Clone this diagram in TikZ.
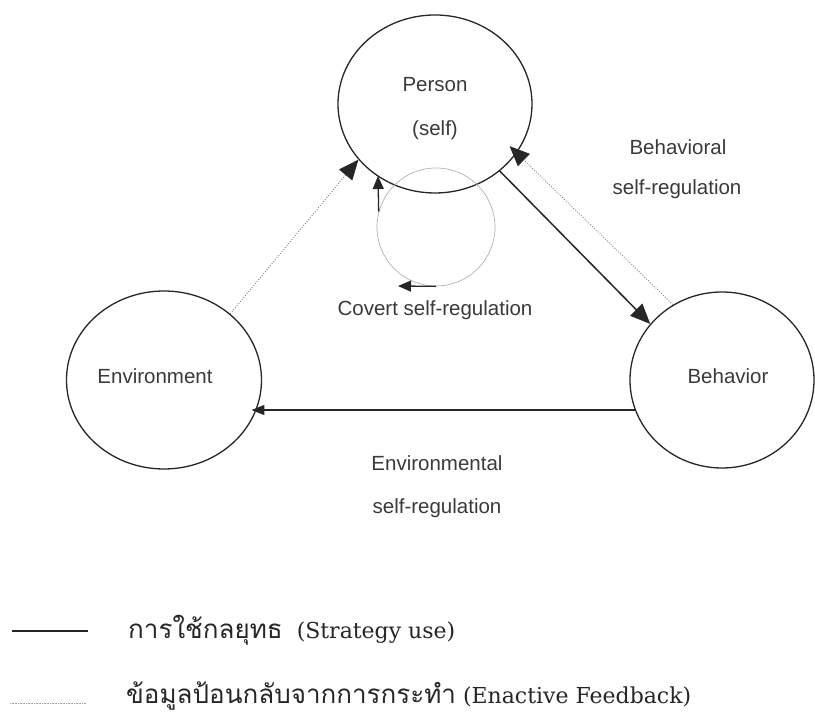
\documentclass[tikz,border=0pt]{standalone}
\usepackage{fontspec}
\setsansfont{Liberation Sans}
\newfontfamily\thaifont[Script=Thai]{Loma}
\newfontfamily\keyfont{DejaVu Serif}
\usetikzlibrary{shapes.geometric,arrows.meta}
\definecolor{ink}{HTML}{262626}
\definecolor{txt}{HTML}{3A3A3A}
\definecolor{dots}{HTML}{8A8A8A}
\begin{document}
\begin{tikzpicture}[x=1pt,y=1pt,
  blob/.style={draw=ink,line width=1.3pt,ellipse,inner sep=0pt},
  lbl/.style={text=txt,font=\sffamily\fontsize{20.5}{24}\selectfont,inner sep=0pt},
  strat/.style={draw=ink,line width=1.5pt},
  fb/.style={draw=dots,line width=0.9pt,dash pattern=on 1pt off 1.6pt},
  bigtip/.style={-{Triangle[length=20pt,width=17pt,color=ink]}},
  smalltip/.style={-{Triangle[length=13pt,width=10pt,color=ink]}},
  midtip/.style={-{Triangle[length=13pt,width=11pt,color=ink]}},
  legend/.style={text=ink,font=\keyfont\fontsize{22}{26}\selectfont,inner sep=0pt,anchor=base west}]
\useasboundingbox (0,0) rectangle (815,717);

% the three poles of the model
\node[blob,minimum width=194pt,minimum height=178pt] (person) at (435,613) {};
\node[blob,minimum width=195pt,minimum height=178pt] (env) at (164,337) {};
\node[blob,minimum width=184pt,minimum height=176pt] (beh) at (722,337) {};

% inner loop of covert regulation
\node[circle,draw=black!30,line width=0.7pt,minimum size=118pt,inner sep=0pt] (cov) at (436,490) {};
\coordinate (covtip) at (378,541);
\coordinate (covend) at (398,431);
\draw[strat,line width=1.3pt,midtip] (cov.165) -- (covtip);
\draw[strat,line width=1.3pt,midtip] (cov.south) -- (covend);

% labels inside the poles
\node[lbl] (plabel) at (435,632) {Person};
\node[lbl] (pself) at (435,587) {(self)};
\node[lbl] (elabel) at (155,341) {Environment};
\node[lbl] (blabel) at (728,341) {Behavior};

% connectors between the poles
\draw[fb,bigtip] (env.45.9) -- (person.216.9);
\draw[strat,bigtip] (person.-46.3) -- (beh.142.4);
\draw[fb,bigtip,shorten >=-10pt] (beh.123.5) -- (person.-31);
\draw[strat,smalltip,shorten >=-5pt] (beh.199.1) -- (env.-18.2 |- beh.199.1);

% connector labels
\node[lbl] (behav1) at (678,570) {Behavioral};
\node[lbl] (behav2) at (677,528) {self-regulation};
\node[lbl] (covlbl) at (435,407) {Covert self-regulation};
\node[lbl] (envr1) at (437,254) {Environmental};
\node[lbl] (envr2) at (437,209) {self-regulation};

% key
\coordinate (k1a) at (12,86);
\coordinate (k1b) at (88,86);
\coordinate (k2a) at (10,14);
\coordinate (k2b) at (86,14);
\draw[draw=ink,line width=2.6pt] (k1a) -- (k1b);
\draw[draw=dots!80,line width=0.8pt,dash pattern=on 0.8pt off 0.8pt] (k2a) -- (k2b);
\node[legend] (key1) at (128,78) {{\thaifont\fontsize{26}{30}\selectfont การใช้กลยุทธ}\ \ (Strategy use)};
\node[legend] (key2) at (126,13) {{\thaifont\fontsize{26}{30}\selectfont ข้อมูลป้อนกลับจากการกระทำ} (Enactive Feedback)};
\end{tikzpicture}
\end{document}
